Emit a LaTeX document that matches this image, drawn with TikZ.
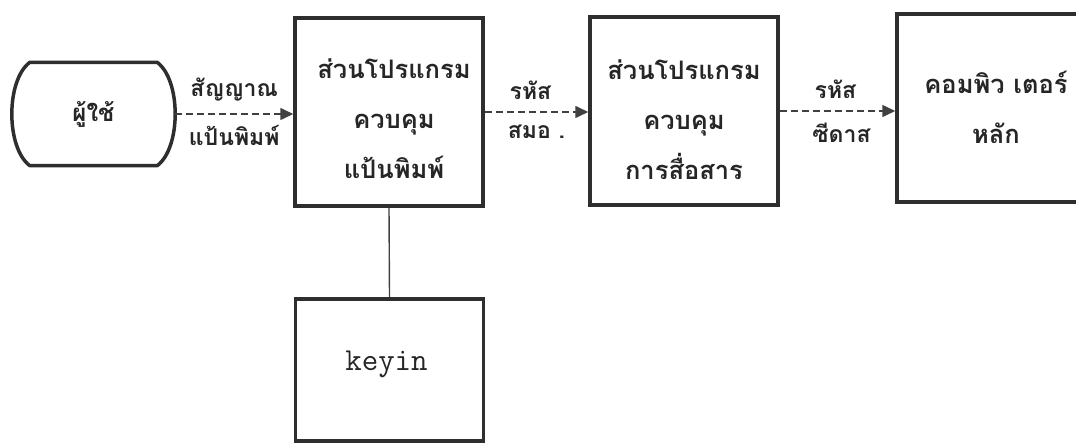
\documentclass[tikz,border=0pt]{standalone}
\usepackage{fontspec}
\newfontfamily\thaifont[Script=Thai,BoldFont={Loma Bold}]{Loma}
\usetikzlibrary{arrows.meta,calc}
\tikzset{
  box/.style={draw=black!82, line width=3.5pt, minimum width=188pt, minimum height=188pt,
    inner sep=0pt},
  boxtext/.style={align=center, inner sep=0pt, font=\thaifont\bfseries\fontsize{25.5}{50}\selectfont, text=black!85},
  flow/.style={draw=black!75, line width=1.6pt, dash pattern=on 7pt off 4pt,
    -{Triangle[length=13pt,width=12pt]}},
  lbl/.style={font=\thaifont\bfseries\fontsize{23}{26}\selectfont, text=black!85, inner sep=0pt},
  link/.style={draw=black!75, line width=1.4pt},
}
\begin{document}
\begin{tikzpicture}[x=1pt,y=-1pt]
\useasboundingbox (0,0) rectangle (1076,443);
\clip (0,0) rectangle (1076,443);
% user terminal
\node[minimum width=163pt, minimum height=103pt, inner sep=0pt,
  font=\thaifont\bfseries\fontsize{24}{26}\selectfont, text=black!85] (user) at (93.5,114) {ผู้ใช้};
\draw[draw=black!82, line width=3.5pt, line join=round]
  ($(user.north west)+(18,0)$) -- ($(user.north east)+(-18,0)$)
  .. controls ($(user.north east)+(6,18)$) and ($(user.south east)+(6,-18)$) .. ($(user.south east)+(-18,0)$)
  -- ($(user.south west)+(18,0)$)
  .. controls ($(user.south west)+(-6,-18)$) and ($(user.north west)+(-6,18)$) .. cycle;
% boxes
\node[box] (kbd) at (389,112) {};
\node[boxtext] (kbdtext) at ($(kbd.center)+(5,7)$) {ส่วนโปรแกรม\\ควบคุม\\แป้นพิมพ์};
\node[box] (com) at (684,111) {};
\node[boxtext] (comtext) at ($(com.center)+(0,9)$) {ส่วนโปรแกรม\\ควบคุม\\การสื่อสาร};
\node[box, minimum width=204pt, minimum height=188pt] (host) at (999,108) {};
\node[boxtext] (hosttext) at ($(host.center)+(-3,-1)$) {คอมพิว เตอร์\\หลัก};
\node[box, minimum height=142pt] (keyin) at (389.5,370) {};
\node[inner sep=0pt, font=\ttfamily\fontsize{32}{34}\selectfont, text=black!85] (keyintext) at ($(keyin.center)+(-3,-6)$) {keyin};
% connectors
\draw[flow] (user.east) -- (kbd.west |- user.east)
  node[lbl, midway, above=12pt] (l1a) {สัญญาณ}
  node[lbl, midway, below=11pt] (l1b) {แป้นพิมพ์};
\draw[flow] (kbd.east) -- (kbd.east -| com.west)
  node[lbl, midway, above=12pt, xshift=-6pt] (l2a) {รหัส}
  node[lbl, midway, below=12pt] (l2b) {สมอ .};
\draw[flow] (com.east) -- (com.east -| host.west)
  node[lbl, midway, above=12pt, xshift=-2pt] (l3a) {รหัส}
  node[lbl, midway, below=11pt, xshift=4pt] (l3b) {ซีดาส};
\draw[link] (kbd.south) -- (keyin.north);
\end{tikzpicture}
\end{document}
